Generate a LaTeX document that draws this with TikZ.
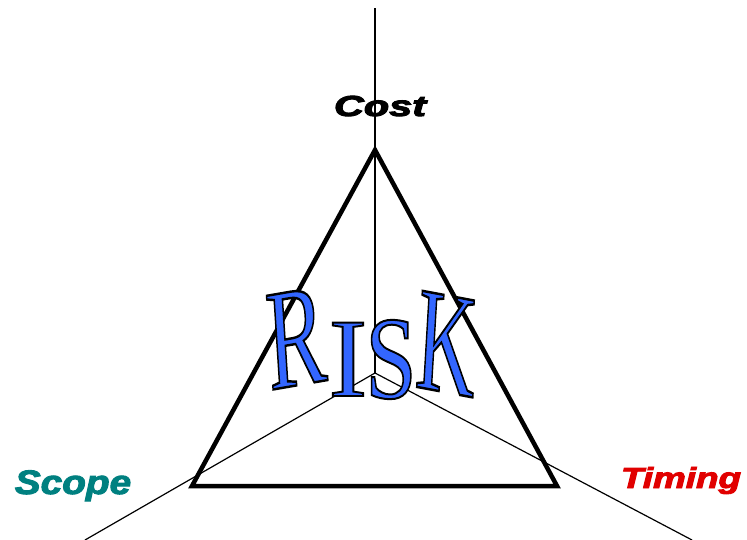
\documentclass[tikz,border=0pt]{standalone}
\usepackage{fontspec}
\setmainfont{Liberation Serif}
\newfontfamily\labelfont{Liberation Sans}
\definecolor{scopeteal}{RGB}{0,128,128}
\definecolor{timingred}{RGB}{225,0,0}
\definecolor{riskblue}{RGB}{51,102,255}
\newcommand\outlined[1]{\special{pdf:literal direct 2 Tr 2 w 0 0 0 RG}#1\special{pdf:literal direct 0 Tr}}
\newcommand\heavy[1]{\special{pdf:literal direct 2 Tr 0.9 w}#1\special{pdf:literal direct 0 Tr}}
\tikzset{
  axis/.style={draw=black, line width=1.2pt},
  tri/.style={draw=black, line width=4.5pt, line join=miter},
  lbl/.style={font=\labelfont\bfseries\itshape\fontsize{29}{30}\selectfont, anchor=base, inner sep=0pt},
  riskletter/.style={font=\fontsize{118}{120}\selectfont, anchor=base, inner sep=0pt, text=riskblue},
}
\begin{document}
\begin{tikzpicture}[x=1pt,y=-1pt]
\useasboundingbox (0,0) rectangle (747,540);
\fill[white] (0,0) rectangle (747,540);
\coordinate (O) at (375,373);
\coordinate (axtop) at (375,8);
\coordinate (axll) at (85,540);
\coordinate (axlr) at (692,540);
\coordinate (A) at (375,150);
\coordinate (B) at (192,486);
\coordinate (C) at (557,486);
\draw[axis] (O) -- (axtop);
\draw[axis] (O) -- (axll);
\draw[axis] (O) -- (axlr);
\draw[tri] (A) -- (B) -- (C) -- cycle;
\node[lbl, xscale=1.43] (cost) at (380,116) {\heavy{Cost}};
\node[lbl, xscale=1.14, text=scopeteal, font=\labelfont\bfseries\itshape\fontsize{34}{36}\selectfont] (scope) at (73,494) {\heavy{Scope}};
\node[lbl, xscale=1.27, text=timingred] (timing) at (681,488) {\heavy{Timing}};
\node[riskletter, xscale=0.74, yscale=1.22, rotate=6] (r) at (299,385) {\outlined{R}};
\node[riskletter, xscale=0.98, yscale=0.95] (i) at (348,396) {\outlined{I}};
\node[riskletter, xscale=0.78, yscale=1.0] (s) at (391,398) {\outlined{S}};
\node[riskletter, xscale=0.70, yscale=1.25, rotate=-6] (k) at (444,392) {\outlined{K}};
\end{tikzpicture}
\end{document}
